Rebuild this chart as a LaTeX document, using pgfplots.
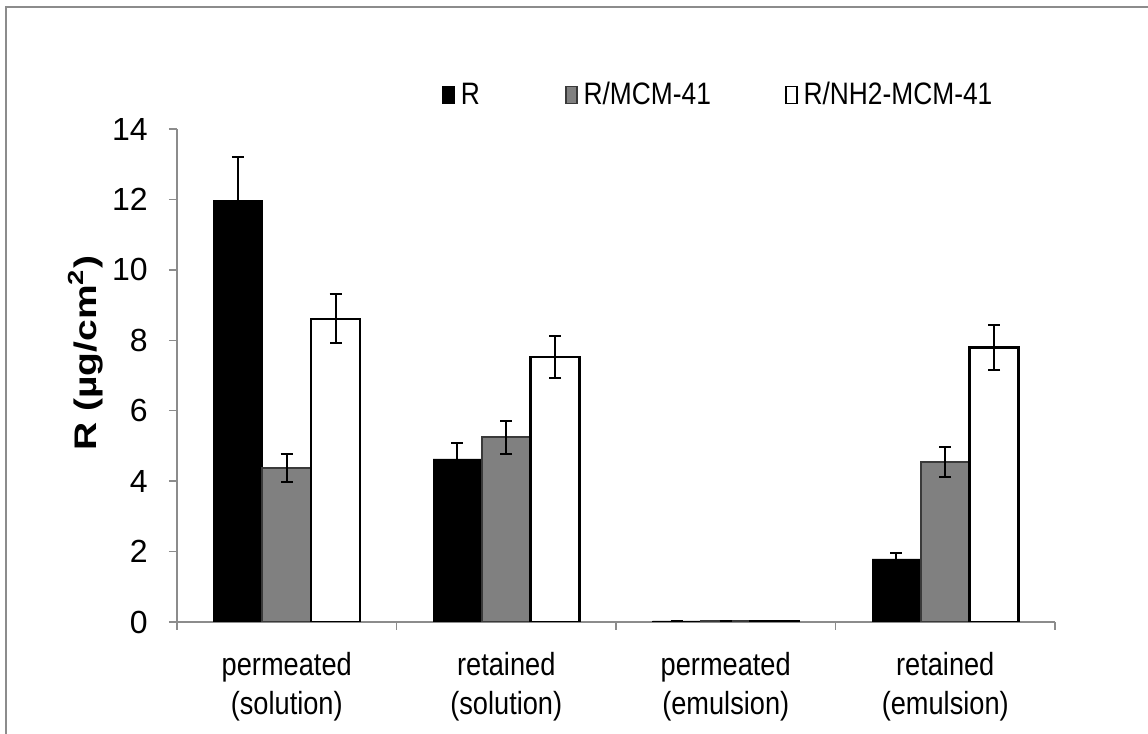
\documentclass[border=0pt]{standalone}
\usepackage{fontspec}
\setmainfont{Liberation Sans}[FakeStretch=0.85]
\newfontfamily\labelfont{Liberation Sans}
\usepackage{graphicx}
\usepackage{pgfplots}
\usepackage{pgfplotstable}
\pgfplotsset{compat=1.18}

\definecolor{axisgray}{HTML}{8C8C8C}
\definecolor{bargray}{HTML}{808080}
\definecolor{bargrayedge}{HTML}{3A3A3A}

% columns: category position, mean, standard deviation
\pgfplotstableread{
x val err
0 11.98 1.22
1 4.63 0.45
2 0.03 0.00
3 1.79 0.16
}\tabR
\pgfplotstableread{
x val err
0 4.37 0.40
1 5.25 0.47
2 0.02 0.00
3 4.54 0.42
}\tabMCM
\pgfplotstableread{
x val err
0 8.61 0.70
1 7.53 0.60
2 0.02 0.00
3 7.79 0.63
}\tabNH

\begin{document}
\begin{tikzpicture}
\useasboundingbox (0pt,0pt) rectangle (574pt,367pt);
\draw[axisgray, line width=1pt] (3pt,0pt) -- (3pt,363.5pt) -- (574pt,363.5pt);
\begin{axis}[
  at={(88.5pt,56pt)}, anchor=south west,
  scale only axis, width=439pt, height=246.5pt,
  xmin=-0.5, xmax=3.5, ymin=0, ymax=14,
  axis x line*=bottom, axis y line*=left,
  axis line style={axisgray, line width=0.75pt},
  every tick/.style={axisgray, line width=0.75pt},
  tick align=outside,
  major tick length=4pt,
  ytick={0,2,...,14},
  xtick={-0.5,0.5,1.5,2.5,3.5},
  % category names sit half a slot to the right of the boundary ticks
  xticklabels={{permeated\\(solution)},{retained\\(solution)},{permeated\\(emulsion)},{retained\\(emulsion)},{}},
  xticklabel style={align=center, font=\fontsize{16}{19.5}\selectfont, inner sep=0pt,
    xshift=54.875pt, yshift=-11pt},
  yticklabel style={font=\labelfont\fontsize{16}{19}\selectfont, inner sep=0pt, xshift=-10.5pt},
  /pgf/number format/assume math mode=true,
  ylabel={\scalebox{1}[0.8]{\labelfont\bfseries R (µg/cm\textsuperscript{2})}},
  ylabel style={font=\fontsize{19.5}{22}\selectfont, at={(axis description cs:-0.104,0.545)}, anchor=center},
  ybar, bar width=0.2222,
  error bars/y dir=both, error bars/y explicit,
  error bars/error bar style={black, line width=1pt},
  error bars/error mark options={black, rotate=90, mark size=3pt, line width=1pt},
  legend columns=3,
  legend style={draw=none, fill=none, at={(axis description cs:0.3018,1.069)}, anchor=west,
    inner sep=0pt, font=\fontsize{15.5}{17}\selectfont,
    nodes={inner sep=0pt},
    /tikz/column 1/.style={column sep=3pt},
    /tikz/column 2/.style={column sep=42.5pt},
    /tikz/column 3/.style={column sep=3pt},
    /tikz/column 4/.style={column sep=37pt},
    /tikz/column 5/.style={column sep=3pt}},
  legend image code/.code={\draw[#1, line width=0.8pt] (0pt,-4.25pt) rectangle (5.5pt,4.25pt);},
]
\addplot[fill=black, draw=black, bar shift=-0.2222] table[x=x, y=val, y error=err] {\tabR};
\addlegendentry{R}
\addplot[fill=bargray, draw=bargrayedge, line width=1pt, bar shift=0] table[x=x, y=val, y error=err] {\tabMCM};
\addlegendentry{R/MCM-41}
\addplot[fill=white, draw=black, line width=1.2pt, bar shift=0.2222] table[x=x, y=val, y error=err] {\tabNH};
\addlegendentry{R/NH2-MCM-41}
\end{axis}
\end{tikzpicture}
\end{document}
